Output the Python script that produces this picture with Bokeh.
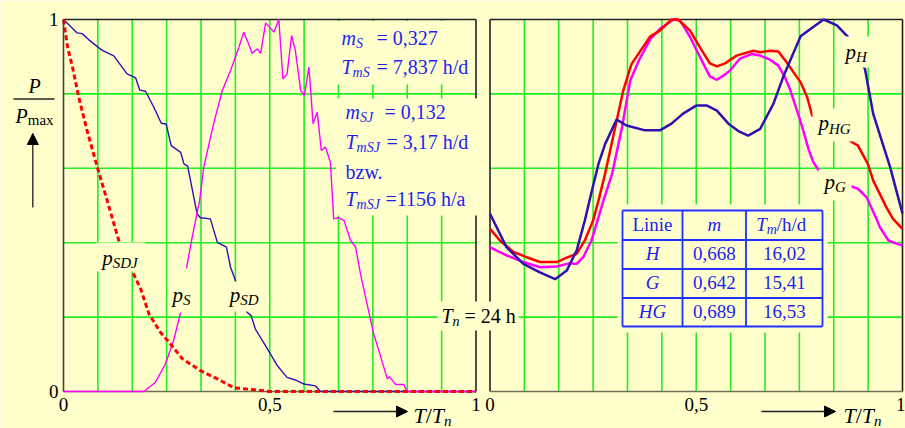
from bokeh.plotting import figure
from bokeh.models import Range1d, FixedTicker, Arrow, NormalHead
from bokeh.core.properties import value
from bokeh.embed import file_html
from bokeh.resources import INLINE

# ---------------- data ----------------
# left panel: p_SD (blue), p_S (magenta), p_SDJ (red dashed)
SD_X = [0, 0.033, 0.045, 0.061, 0.082, 0.094, 0.122, 0.134, 0.154, 0.175, 0.185, 0.199, 0.219,
        0.237, 0.249, 0.261, 0.284, 0.292, 0.301, 0.324, 0.332, 0.356, 0.373, 0.395, 0.405, 0.417,
        0.445, 0.455, 0.465, 0.494, 0.518, 0.542, 0.562, 0.583, 0.611, 0.623, 1.0]
SD_Y = [1.0, 0.964, 0.962, 0.946, 0.927, 0.917, 0.902, 0.884, 0.854, 0.843, 0.810, 0.807, 0.764,
        0.721, 0.719, 0.661, 0.643, 0.612, 0.606, 0.477, 0.467, 0.464, 0.401, 0.388, 0.334, 0.298,
        0.213, 0.204, 0.168, 0.115, 0.070, 0.038, 0.031, 0.020, 0.015, 0.0, 0.0]

S_X = [0, 0.195, 0.223, 0.247, 0.267, 0.284, 0.298, 0.312, 0.330, 0.340, 0.364, 0.385, 0.405, 0.425,
       0.437, 0.449, 0.457, 0.470, 0.478, 0.490, 0.510, 0.522, 0.532, 0.542, 0.553, 0.562, 0.575,
       0.584, 0.595, 0.605, 0.615, 0.625, 0.635, 0.647, 0.655, 0.667, 0.680, 0.696, 0.708, 0.720,
       0.736, 0.752, 0.768, 0.785, 0.790, 0.805, 0.825, 0.833, 1.0]
S_Y = [0, 0, 0.025, 0.074, 0.137, 0.213, 0.330, 0.415, 0.513, 0.603, 0.720, 0.809, 0.863, 0.925,
       0.966, 0.934, 0.909, 0.921, 0.909, 0.991, 0.966, 1.0, 0.840, 0.854, 0.957, 0.917, 0.809,
       0.796, 0.872, 0.720, 0.751, 0.648, 0.657, 0.616, 0.464, 0.467, 0.460, 0.406, 0.388, 0.316,
       0.235, 0.155, 0.097, 0.034, 0.040, 0.019, 0.019, 0.0, 0.0]

SDJ_X = [0, 0.010, 0.022, 0.037, 0.057, 0.082, 0.106, 0.134, 0.166, 0.187, 0.207, 0.235, 0.259,
         0.288, 0.332, 0.373, 0.413, 0.470, 0.500, 1.0]
SDJ_Y = [1.0, 0.925, 0.871, 0.791, 0.702, 0.603, 0.513, 0.406, 0.325, 0.276, 0.209, 0.159, 0.128,
         0.088, 0.056, 0.034, 0.010, 0.004, 0.0, 0.0]

# right panel: p_H (blue), p_HG (red), p_G (magenta)
H_X = [0, 0.040, 0.081, 0.121, 0.158, 0.186, 0.210, 0.230, 0.242, 0.263, 0.279, 0.307, 0.331, 0.376,
       0.412, 0.440, 0.468, 0.501, 0.525, 0.550, 0.578, 0.602, 0.626, 0.655, 0.687, 0.712, 0.753,
       0.781, 0.809, 0.841, 0.867, 0.909, 0.929, 0.970, 1.0]
H_Y = [0.478, 0.388, 0.343, 0.320, 0.302, 0.325, 0.379, 0.460, 0.517, 0.612, 0.665, 0.731, 0.715,
       0.702, 0.702, 0.720, 0.747, 0.769, 0.769, 0.755, 0.720, 0.700, 0.688, 0.706, 0.773, 0.849,
       0.955, 0.978, 1.0, 0.984, 0.954, 0.867, 0.746, 0.603, 0.478]

HG_X = [0, 0.024, 0.057, 0.089, 0.121, 0.162, 0.186, 0.210, 0.230, 0.250, 0.263, 0.279, 0.307, 0.323,
        0.343, 0.368, 0.388, 0.412, 0.440, 0.456, 0.485, 0.509, 0.533, 0.550, 0.570, 0.598, 0.638,
        0.655, 0.679, 0.699, 0.719, 0.753, 0.769, 0.781, 0.878, 0.892, 0.916, 0.929, 0.961, 0.977, 1.0]
HG_Y = [0.437, 0.406, 0.375, 0.361, 0.348, 0.348, 0.360, 0.370, 0.406, 0.460, 0.513, 0.585, 0.728,
        0.809, 0.880, 0.921, 0.954, 0.970, 1.0, 1.0, 0.970, 0.925, 0.882, 0.874, 0.882, 0.903, 0.916,
        0.912, 0.916, 0.914, 0.885, 0.831, 0.791, 0.742, 0.670, 0.661, 0.612, 0.567, 0.495, 0.464, 0.437]

G_X = [0, 0.016, 0.040, 0.081, 0.121, 0.162, 0.194, 0.210, 0.226, 0.246, 0.263, 0.275, 0.296, 0.320,
       0.340, 0.361, 0.389, 0.412, 0.445, 0.461, 0.485, 0.509, 0.533, 0.550, 0.566, 0.582, 0.606,
       0.634, 0.655, 0.679, 0.699, 0.715, 0.727, 0.739, 0.756, 0.772, 0.784, 0.796, 0.877, 0.892,
       0.913, 0.937, 0.945, 0.966, 0.982, 1.0]
G_Y = [0.388, 0.379, 0.366, 0.348, 0.334, 0.336, 0.345, 0.343, 0.361, 0.406, 0.468, 0.513, 0.585,
       0.710, 0.836, 0.890, 0.948, 0.975, 1.0, 0.997, 0.953, 0.899, 0.847, 0.838, 0.849, 0.863,
       0.895, 0.907, 0.903, 0.892, 0.876, 0.845, 0.813, 0.773, 0.715, 0.652, 0.616, 0.596, 0.551,
       0.545, 0.522, 0.464, 0.442, 0.406, 0.399, 0.392]

GRID_X = [k / 12 for k in range(1, 12)]
GRID_Y = [0.2, 0.4, 0.6, 0.8]
X_TICKS = [0, 0.5, 1]
X_TICK_LABELS = ["0", "0,5", "1"]
Y_TICKS = [0, 1]

INFO_S = ["= 0,327", "= 7,837 h/d"]
INFO_SJ = ["= 0,132", "= 3,17 h/d", "bzw.", "=1156 h/a"]
TN_TEXT = "= 24 h"

TABLE_LINE = ["H", "G", "HG"]
TABLE_M = ["0,668", "0,642", "0,689"]
TABLE_TM = ["16,02", "15,41", "16,53"]

# ---------------- styles / layout ----------------
BG = "#FFFFCC"
GRID = "#22EE22"
BLUE = "#3010B0"
MAG = "#FF00FF"
RED = "#FF0000"
TXT_BLUE = "#1E1EF0"
TBL_BLUE = "#2030FF"
SERIF = "Liberation Serif"
BASE_FIX = 0.28  # renderer places alphabetic baseline ~0.28 em low; compensate

W, H = 905, 428
X0PX, SX, RX0PX = 63.0, 412.5, 489.5
Y0PX, SY = 391.0, 372.0
R0 = (RX0PX - X0PX) / SX


def X(px):
    return (px - X0PX) / SX


def Y(py):
    return (Y0PX - py) / SY


p = figure(width=W, height=H, x_range=Range1d(X(0), X(W)), y_range=Range1d(Y(H), Y(0)),
           min_border=0, output_backend="svg", toolbar_location=None,
           background_fill_color=BG, border_fill_color=BG, outline_line_color=None)
p.extra_x_ranges = {"r": Range1d(X(0) - R0, X(W) - R0)}
p.xgrid.visible = False
p.ygrid.visible = False

LO, HI = 0, 1

# grid
for rn in ("default", "r"):
    p.segment(x0=GRID_X, y0=LO, x1=GRID_X, y1=HI, line_color=GRID, line_width=1.6, x_range_name=rn)
    p.segment(x0=LO, y0=GRID_Y, x1=HI, y1=GRID_Y, line_color=GRID, line_width=1.6, x_range_name=rn)

# panel frames
FR_DARK = "#222222"
FR_BOT = "#707058"
p.multi_line(xs=[[LO, HI], [HI, HI]], ys=[[HI, HI], [LO, HI]], line_color=FR_DARK, line_width=1.6)
p.line([LO, HI], [LO, LO], line_color=FR_BOT, line_width=1.6)
p.multi_line(xs=[[LO, LO], [LO, HI], [HI, HI]], ys=[[LO, HI], [HI, HI], [LO, HI]],
             line_color=FR_DARK, line_width=1.6, x_range_name="r")
p.line([LO, HI], [LO, LO], line_color=FR_BOT, line_width=1.6, x_range_name="r")

# curves
p.line(SD_X, SD_Y, line_color=BLUE, line_width=1.4)
p.line(S_X, S_Y, line_color=MAG, line_width=1.4)
p.line(SDJ_X, SDJ_Y, line_color=RED, line_width=3, line_dash="5 3")
p.line(G_X, G_Y, line_color=MAG, line_width=2.5, x_range_name="r")
p.line(HG_X, HG_Y, line_color=RED, line_width=2.5, x_range_name="r")
p.line(H_X, H_Y, line_color=BLUE, line_width=2.5, x_range_name="r")

# opaque backgrounds behind the texts (pixel boxes: left, right, top, bottom)
BOXES = [(331, 474, 20.5, 84), (335.5, 481, 98, 215), (437, 518, 301, 330),
         (96, 145, 242, 271), (169, 195, 268, 312), (226, 260, 281, 311),
         (840, 869, 36, 67), (812, 852, 108, 141), (818, 851, 169, 200),
         (617, 827, 204, 332)]
p.quad(left=[X(b[0]) for b in BOXES], right=[X(b[1]) for b in BOXES],
       top=[Y(b[2]) for b in BOXES], bottom=[Y(b[3]) for b in BOXES],
       fill_color=BG, line_color=None)

# table grid
TX = [622, 682, 745.5, 822]
TY = [210, 239.5, 268.5, 297.5, 326]
p.segment(x0=[X(TX[0])] * len(TY), x1=[X(TX[-1])] * len(TY), y0=[Y(t) for t in TY],
          y1=[Y(t) for t in TY], line_color=TBL_BLUE, line_width=1.8)
p.segment(x0=[X(t) for t in TX], x1=[X(t) for t in TX], y0=[Y(TY[0])] * len(TX),
          y1=[Y(TY[-1])] * len(TX), line_color=TBL_BLUE, line_width=1.8)

# ---------------- text helpers ----------------
ROMAN = {' ': 250, ',': 250, '.': 250, '/': 278, '=': 564, 'a': 444, 'b': 500, 'd': 500, 'e': 444,
         'h': 500, 'i': 278, 'L': 611, 'm': 778, 'n': 500, 'w': 722, 'x': 500, 'z': 444}
ITALIC = {'p': 500, 'm': 722, 'n': 500, 'S': 500, 'D': 722, 'J': 444, 'T': 556, 'H': 722,
          'G': 722, 'P': 611}


def tw(s, size, it):
    tab = ITALIC if it else ROMAN
    return sum(tab.get(c, 500) for c in s) * size / 1000.0


def rich(x_px, base_px, parts, color="black", align="left"):
    total = sum(tw(t, sz, it) for t, sz, it, d in parts)
    x = x_px - (total / 2 if align == "center" else 0)
    for t, sz, it, d in parts:
        p.text(x=[X(x)], y=[Y(base_px + d - BASE_FIX * sz)], text=[t], text_font=value(SERIF),
               text_font_size=value(f"{sz}px"),
               text_font_style=value("italic" if it else "normal"),
               text_color=color, text_baseline=value("alphabetic"), text_align=value("left"))
        x += tw(t, sz, it)


# blue info block
rich(341, 43, [("m", 20, 1, 0), ("S", 14, 1, 4)], TXT_BLUE)
rich(376, 43, [(INFO_S[0], 20, 0, 0)], TXT_BLUE)
rich(341, 72, [("T", 20, 1, 0), ("mS", 14, 1, 4)], TXT_BLUE)
rich(376, 72, [(INFO_S[1], 20, 0, 0)], TXT_BLUE)
rich(345, 117, [("m", 20, 1, 0), ("SJ", 14, 1, 4)], TXT_BLUE)
rich(384, 117, [(INFO_SJ[0], 20, 0, 0)], TXT_BLUE)
rich(345, 147, [("T", 20, 1, 0), ("mSJ", 14, 1, 4)], TXT_BLUE)
rich(386, 147, [(INFO_SJ[1], 20, 0, 0)], TXT_BLUE)
rich(345, 177, [(INFO_SJ[2], 20, 0, 0)], TXT_BLUE)
rich(345, 204, [("T", 20, 1, 0), ("mSJ", 14, 1, 4)], TXT_BLUE)
rich(385, 204, [(INFO_SJ[3], 20, 0, 0)], TXT_BLUE)

# curve labels
rich(101.7, 263, [("p", 21, 1, 0), ("SDJ", 15, 1, 4)])
rich(172, 300, [("p", 21, 1, 0), ("S", 15, 1, 4)])
rich(229.3, 300, [("p", 21, 1, 0), ("SD", 15, 1, 4)])
rich(845, 57, [("p", 21, 1, 0), ("H", 15, 1, 4)])
rich(818, 128, [("p", 21, 1, 0), ("HG", 15, 1, 5)])
rich(824, 187, [("p", 21, 1, 0), ("G", 15, 1, 4)])

# T_n = 24 h
rich(441, 321, [("T", 20, 1, 0), ("n", 14, 1, 4)])
rich(464, 321, [(TN_TEXT, 20, 0, 0)])

# table texts
HEAD_BASE = 229.3
ROW_BASE = [258.3, 287.3, 316.0]
COL_C = [(TX[i] + TX[i + 1]) / 2 for i in range(3)]
rich(COL_C[0], HEAD_BASE, [("Linie", 19, 0, 0)], TXT_BLUE, "center")
rich(COL_C[1], HEAD_BASE, [("m", 19, 1, 0)], TXT_BLUE, "center")
rich(COL_C[2] - 3, HEAD_BASE, [("T", 19, 1, 0), ("m", 14, 1, 4), ("/h/d", 19, 0, 0)], TXT_BLUE, "center")
for i in range(3):
    rich(COL_C[0], ROW_BASE[i], [(TABLE_LINE[i], 19, 1, 0)], TXT_BLUE, "center")
    rich(COL_C[1], ROW_BASE[i], [(TABLE_M[i], 19, 0, 0)], TXT_BLUE, "center")
    rich(COL_C[2], ROW_BASE[i], [(TABLE_TM[i], 19, 0, 0)], TXT_BLUE, "center")

# axis titles
rich(34, 91, [("P", 20, 1, 0)], "black", "center")
rich(15, 121, [("P", 20, 1, 0), ("max", 15, 0, 3)])
p.add_layout(Arrow(x_start=X(13), y_start=Y(98.5), x_end=X(54), y_end=Y(98.5), start=None, end=None,
                   line_color="#202020", line_width=1.3))
p.add_layout(Arrow(x_start=X(32.3), y_start=Y(207), x_end=X(32.3), y_end=Y(133),
                   end=NormalHead(size=11, fill_color="black", line_color="black"),
                   line_color="#202020", line_width=1.3))
for ax0, tx0 in ((333, 413), (761, 843)):
    p.add_layout(Arrow(x_start=X(ax0), y_start=Y(411), x_end=X(ax0 + 74), y_end=Y(411),
                       end=NormalHead(size=11, fill_color="black", line_color="black"),
                       line_color="#202020", line_width=1.3))
    rich(tx0, 421, [("T", 22, 1, 0), ("/", 22, 0, 0), ("T", 22, 1, 0), ("n", 15, 1, 4)])

# axes (drawn at fixed data locations inside the canvas)
XT = list(X_TICKS) + [t + R0 for t in X_TICKS]
xa = p.xaxis[0]
xa.fixed_location = 0
xa.ticker = FixedTicker(ticks=XT)
xa.major_label_overrides = dict(zip(XT, X_TICK_LABELS * 2))
xa.axis_line_color = None
xa.major_tick_line_color = None
xa.minor_tick_line_color = None
xa.major_tick_in = 0
xa.major_tick_out = 0
xa.major_label_standoff = 6
xa.major_label_text_font = SERIF
xa.major_label_text_font_size = "19px"
xa.major_label_text_color = "black"

ya = p.yaxis[0]
ya.fixed_location = 0
ya.ticker = FixedTicker(ticks=Y_TICKS)
ya.bounds = (0, 1)
ya.axis_line_color = "#444444"
ya.axis_line_width = 1.6
ya.major_tick_line_color = None
ya.minor_tick_line_color = None
ya.major_tick_in = 0
ya.major_tick_out = 0
ya.major_label_standoff = 5
ya.major_label_text_font = SERIF
ya.major_label_text_font_size = "19px"
ya.major_label_text_color = "black"

open("out.html", "w").write(file_html(p, INLINE))
